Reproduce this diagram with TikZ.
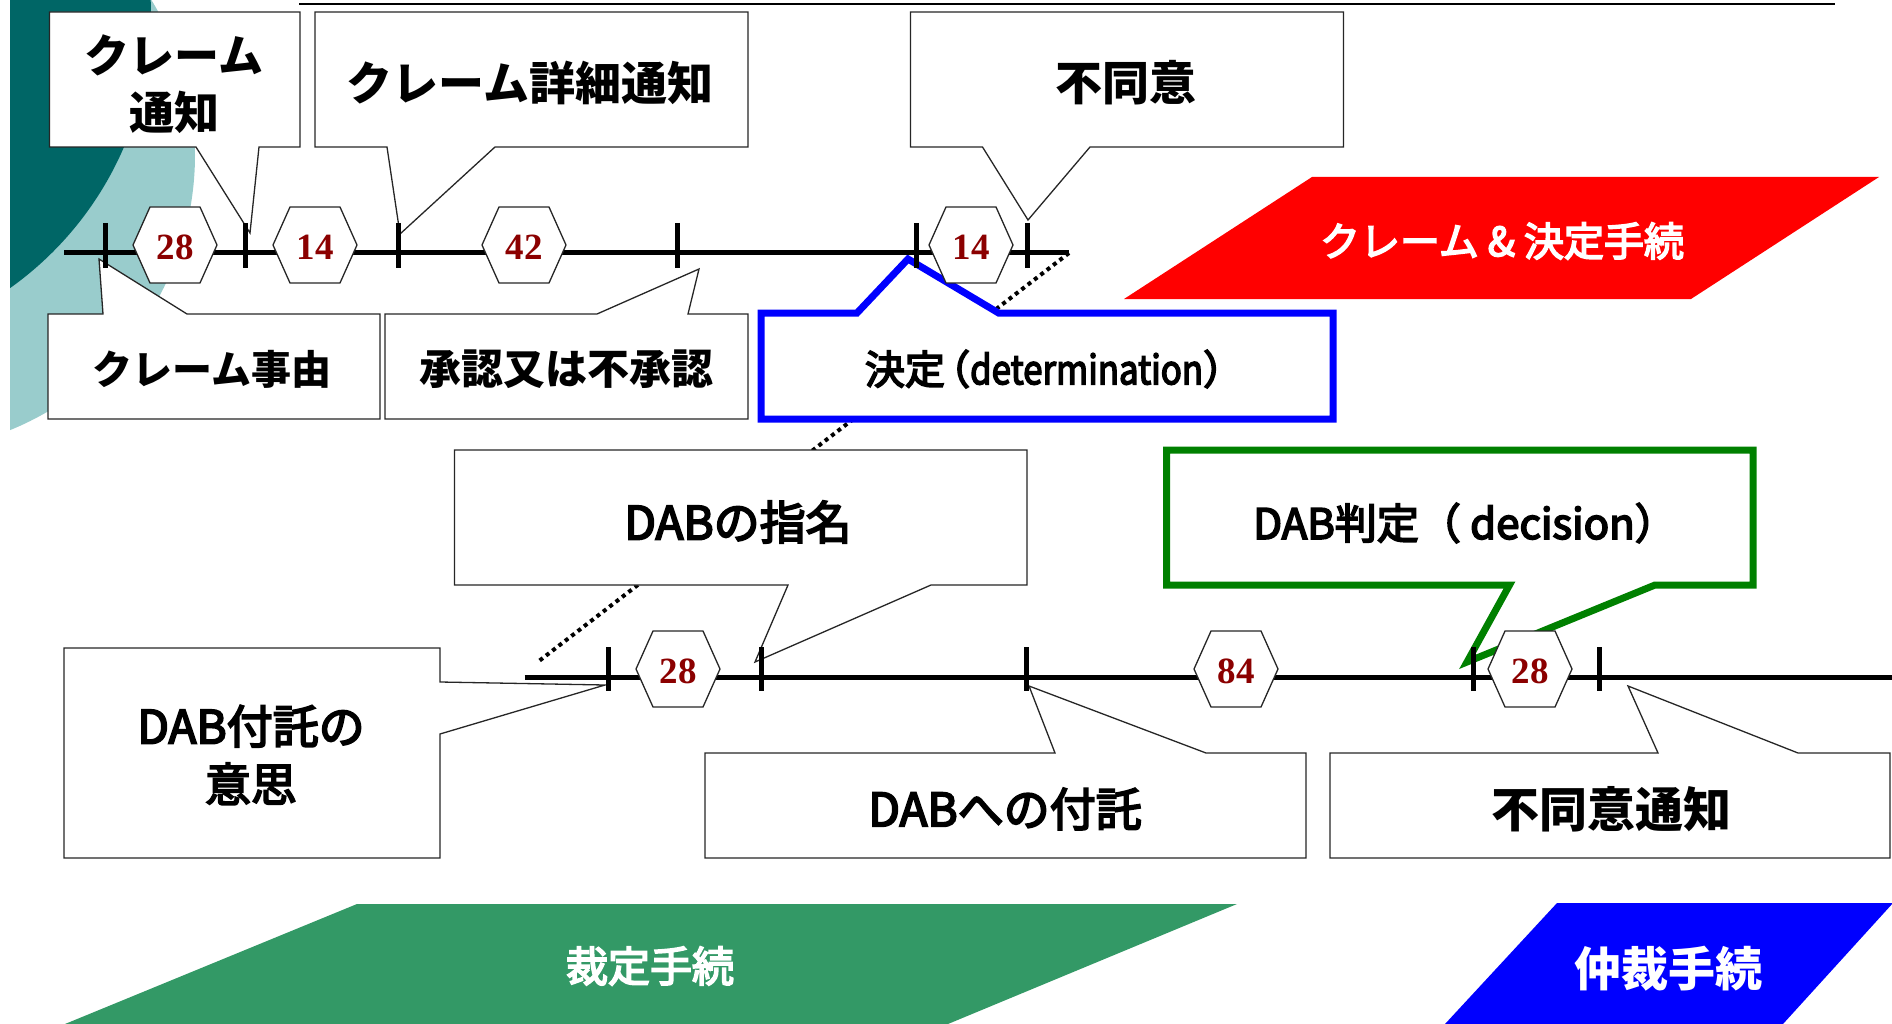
\documentclass[tikz,border=0pt]{standalone}
\usepackage{fontspec}
\usepackage{graphicx}
\setmainfont{Noto Sans CJK JP}
\newfontfamily\jpmed{Noto Sans CJK JP}[FakeBold=4]
\newfontfamily\numfont{Liberation Serif}
\newcommand{\narrowlat}[1]{\scalebox{0.87}[1]{#1}}
\definecolor{darkteal}{RGB}{0,102,102}
\definecolor{lightteal}{RGB}{153,204,204}
\definecolor{numred}{RGB}{139,0,0}
\definecolor{pgreen}{RGB}{51,153,102}
\definecolor{dgreen}{RGB}{0,128,0}
\tikzset{
  callout/.style={draw=black!85, line width=1.3pt, fill=white, line join=miter},
  bluecall/.style={draw=blue, line width=7pt, fill=white, line join=miter},
  greencall/.style={draw=dgreen, line width=7pt, fill=white, line join=miter},
  tline/.style={line width=5pt},
  tickmark/.style={line width=5pt},
  hexline/.style={draw=black!85, line width=1.3pt, fill=white},
  hexnum/.style={font=\numfont\bfseries\fontsize{37}{37}\selectfont, text=numred, inner sep=0pt},
  lbl/.style={inner sep=0pt, align=center},
  dotline/.style={line width=4pt, dash pattern=on 4pt off 4pt},
}
\newcommand{\hexnode}[4]{%
  \draw[hexline] (#2-42,#3) -- (#2-25,#3-38) -- (#2+25,#3-38) -- (#2+42,#3) -- (#2+25,#3+38) -- (#2-25,#3+38) -- cycle;
  \node[hexnum] (#1) at (#2,#3+2) {#4};}
\begin{document}
\begin{tikzpicture}[x=1pt,y=-1pt]
\useasboundingbox (0,0) rectangle (1892,1024);
% background arcs
\begin{scope}
  \clip (10,0) rectangle (500,500);
  \fill[lightteal] (-102,155) circle[radius=297pt];
  \fill[darkteal] (-184,15) circle[radius=335pt];
\end{scope}
% top rule
\draw[line width=2.5pt] (299,4) -- (1835,4);
% dotted line
\coordinate (dotA) at (1069,253);
\coordinate (dotB) at (539,661);
\draw[dotline] (dotA) -- (dotB);
% callouts, top timeline
\draw[callout] (49.5,12) -- (300,12) -- (300,147) -- (259,147) -- (250,233) -- (196,147) -- (49.5,147) -- cycle;
\draw[callout] (315,12) -- (748,12) -- (748,147) -- (495,147) -- (400,234) -- (387,147) -- (315,147) -- cycle;
\draw[callout] (910.5,12) -- (1343.5,12) -- (1343.5,147) -- (1090,147) -- (1028,220) -- (982.5,147) -- (910.5,147) -- cycle;
\draw[callout] (48,314) -- (103,314) -- (99,259) -- (187,314) -- (380,314) -- (380,419) -- (48,419) -- cycle;
\draw[callout] (385,314) -- (597,314) -- (699,269) -- (688,314) -- (748,314) -- (748,419) -- (385,419) -- cycle;
\draw[bluecall] (761,313) -- (857,313) -- (908,259) -- (998.6,313) -- (1333,313) -- (1333,419) -- (761,419) -- cycle;
% callouts, bottom timeline
\draw[callout] (454.5,450) -- (1027,450) -- (1027,585) -- (931,585) -- (755,662) -- (788,585) -- (454.5,585) -- cycle;
\draw[greencall] (1166.5,450) -- (1753,450) -- (1753,585) -- (1655,585) -- (1467,662) -- (1509.5,585) -- (1166.5,585) -- cycle;
\draw[callout] (64,648) -- (440,648) -- (440,682) -- (605,685) -- (440,734) -- (440,858) -- (64,858) -- cycle;
\draw[callout] (705,753) -- (1055,753) -- (1029,686) -- (1206,753) -- (1306,753) -- (1306,858) -- (705,858) -- cycle;
\draw[callout] (1330,753) -- (1658,753) -- (1628,686) -- (1798,753) -- (1890,753) -- (1890,858) -- (1330,858) -- cycle;
% timelines
\coordinate (tA) at (64,253);
\coordinate (tB) at (1069,253);
\draw[tline] (tA) -- (tB);
\foreach \x in {105,245,398,677,916,1027} \draw[tickmark] (\x,223) -- (\x,268);
\coordinate (bA) at (524.5,677);
\coordinate (bB) at (1892,677);
\draw[tline] (bA) -- (bB);
\foreach \x in {608,761,1026,1473,1599} \draw[tickmark] (\x,647) -- (\x,691);
% hexagons
\hexnode{h1}{175}{245}{28}
\hexnode{h2}{315}{245}{14}
\hexnode{h3}{524}{245}{42}
\hexnode{h4}{971}{245}{14}
\hexnode{h5}{678}{669}{28}
\hexnode{h6}{1236}{669}{84}
\hexnode{h7}{1530}{669}{28}
% phase bands
\fill[red] (1312,177) -- (1879,177) -- (1691,299) -- (1124,299) -- cycle;
\fill[pgreen] (357,904) -- (1237,904) -- (948,1024) -- (65,1024) -- cycle;
\fill[blue] (1557,903) -- (1893,903) -- (1783,1024) -- (1445,1024) -- cycle;
% texts
\node[lbl, font=\bfseries\fontsize{45}{57}\selectfont] (tcn) at (174,84) {クレーム\\通知};
\node[lbl, font=\bfseries\fontsize{46}{55}\selectfont] (tcd) at (530,83) {クレーム詳細通知};
\node[lbl, font=\bfseries\fontsize{47}{55}\selectfont] (tfd) at (1126,83) {不同意};
\node[lbl, font=\bfseries\fontsize{40}{48}\selectfont] (tcj) at (212,369) {クレーム事由};
\node[lbl, font=\bfseries\fontsize{42}{50}\selectfont] (tsn) at (566,369) {承認又は不承認};
\node[lbl, font=\jpmed\fontsize{40}{48}\selectfont] (tkt) at (1054,369) {決定\hspace{-0.37em}（\narrowlat{determination}）};
\node[lbl, font=\jpmed\fontsize{46}{54}\selectfont] (tsm) at (738,522) {DABの指名};
\node[lbl, font=\jpmed\fontsize{42}{50}\selectfont] (thn) at (1465,523) {DAB判定（ decision）};
\node[lbl, font=\jpmed\fontsize{46}{58}\selectfont] (tis) at (251,755) {DAB付託の\\意思};
\node[lbl, font=\jpmed\fontsize{46}{55}\selectfont] (tft) at (1005,809) {DABへの付託};
\node[lbl, font=\bfseries\fontsize{48}{55}\selectfont] (tfn) at (1611,809) {不同意通知};
\node[lbl, text=white, font=\jpmed\fontsize{40}{48}\selectfont] (tred) at (1502,241) {クレーム \& 決定手続};
\node[lbl, text=white, font=\jpmed\fontsize{42}{50}\selectfont] (tgr) at (650,966) {裁定手続};
\node[lbl, text=white, font=\bfseries\fontsize{47}{55}\selectfont] (tbl) at (1668,969) {仲裁手続};
\end{tikzpicture}
\end{document}
